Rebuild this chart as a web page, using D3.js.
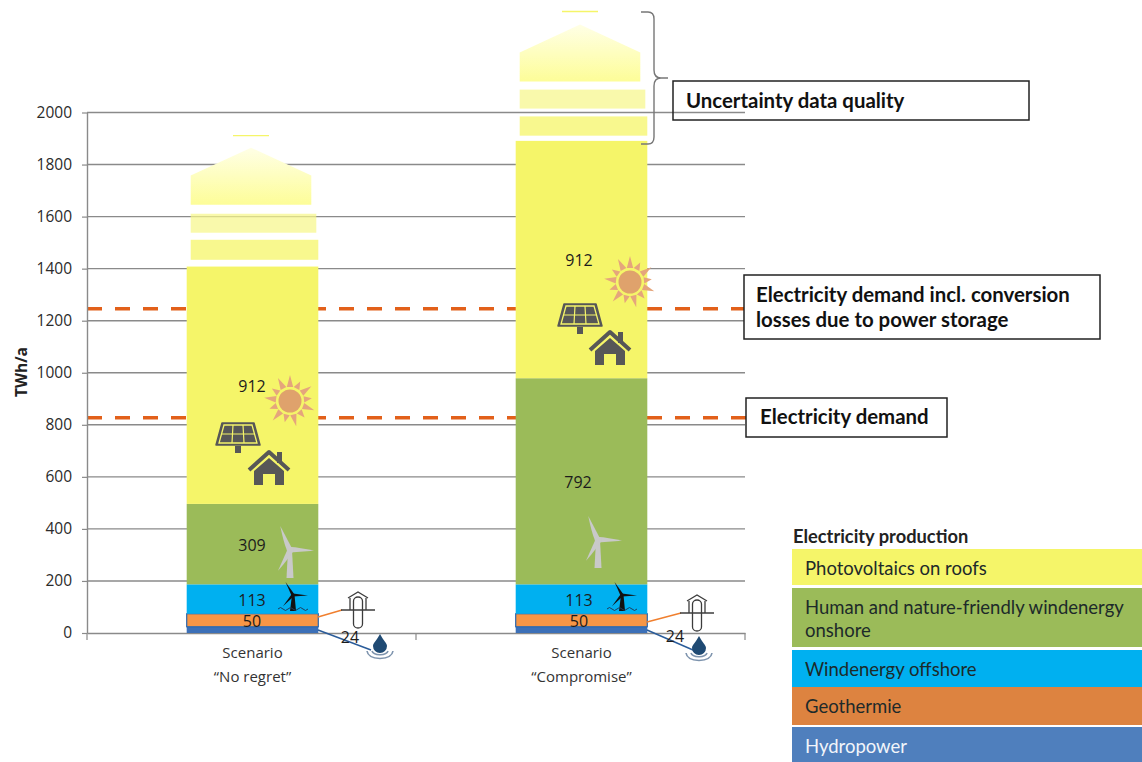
<!DOCTYPE html>
<html>
<head>
<meta charset="utf-8">
<script src="https://cdn.jsdelivr.net/npm/d3@7/dist/d3.min.js"></script>
<style>
  html, body { margin: 0; padding: 0; background: #fff; }
  svg { display: block; font-family: "Open Sans", "Noto Sans", sans-serif; }
</style>
</head>
<body>
<svg id="chart" width="1142" height="762"></svg>
<script>
// Scenario categories and stacked production values (TWh/a)
const scenarios = ["No regret", "Compromise"];
const sources = ["Hydropower", "Geothermie", "Windenergy offshore", "Windenergy onshore", "Photovoltaics on roofs"];
const hydropower = [24, 24];
const geothermie = [50, 50];
const offshore = [113, 113];
const onshore = [309, 792];
const photovoltaics = [912, 912];

// Uncertainty stack above the bars (TWh/a)
const lowerBandStart = [1434, 1911];
const lowerBandEnd = [1511, 1985];
const upperBandStart = [1538, 2015];
const upperBandEnd = [1611, 2088];
const capStart = [1646, 2119];
const capShoulder = [1758, 2231];
const capApex = [1865, 2338];
const topMark = [1911, 2388];

// Demand reference levels (TWh/a)
const demandLevels = [827, 1246];

const yTicks = [0, 200, 400, 600, 800, 1000, 1200, 1400, 1600, 1800, 2000];
const legendTitle = "Electricity production";
const legendLabels = [
  ["Photovoltaics on roofs"],
  ["Human and nature-friendly windenergy", "onshore"],
  ["Windenergy offshore"],
  ["Geothermie"],
  ["Hydropower"]
];

const colors = {
  "Hydropower": "#3c70b8",
  "Geothermie": "#f79646",
  "Windenergy offshore": "#00b0f0",
  "Windenergy onshore": "#9bbb59",
  "Photovoltaics on roofs": "#f5f569"
};
const legendColors = ["#f5f569", "#9bbb59", "#00b0f0", "#dd8340", "#4f7fbd"];
const legendRows = [[549, 585], [588, 647], [650, 687], [687, 725], [727, 762]];

const svg = d3.select("#chart");
const y = d3.scaleLinear().domain([0, 2000]).range([633, 112.5]);
const x = d3.scaleBand().domain(scenarios).range([87, 745]).paddingInner(0.6).paddingOuter(0.3);

const defs = svg.append("defs");
const capGrad = defs.append("linearGradient").attr("id", "capFill").attr("x1", 0).attr("x2", 0).attr("y1", 0).attr("y2", 1);
capGrad.append("stop").attr("offset", "0%").attr("stop-color", "#ffffe6");
capGrad.append("stop").attr("offset", "100%").attr("stop-color", "#fdfd98");

// Gridlines
svg.append("g").selectAll("line").data(yTicks.slice(1)).join("line")
  .attr("x1", 87).attr("x2", 745)
  .attr("y1", d => y(d)).attr("y2", d => y(d))
  .attr("stroke", "#8a8a8a").attr("stroke-width", 1.4);

// Demand levels run behind the bars
svg.append("g").selectAll("line").data(demandLevels).join("line")
  .attr("x1", 87).attr("x2", 746)
  .attr("y1", d => y(d)).attr("y2", d => y(d))
  .attr("stroke", "#e2601a").attr("stroke-width", 3.5).attr("stroke-dasharray", "15 13");

// Axes
const yAxis = d3.axisLeft(y).tickValues(yTicks).tickSize(5).tickSizeOuter(0).tickPadding(10).tickFormat(d3.format("d"));
const gy = svg.append("g").attr("transform", "translate(87,0)").call(yAxis);
gy.select(".domain").attr("stroke", "#8a8a8a").attr("stroke-width", 1.4);
gy.selectAll(".tick line").attr("stroke", "#8a8a8a").attr("stroke-width", 1.2);
gy.selectAll("text").attr("font-size", 15.5).attr("fill", "#2b2b2b").attr("font-family", "'Open Sans', sans-serif");

const xAxis = d3.axisBottom(x).tickSize(0).tickFormat("");
const gx = svg.append("g").attr("transform", `translate(0,${y(0)})`).call(xAxis);
gx.select(".domain").attr("stroke", "#8a8a8a").attr("stroke-width", 1.4);
gx.selectAll(".tick").remove();
svg.append("g").selectAll("line").data([87, 416, 745]).join("line")
  .attr("x1", d => d).attr("x2", d => d)
  .attr("y1", y(0)).attr("y2", y(0) + 7)
  .attr("stroke", "#8a8a8a").attr("stroke-width", 1.2);

svg.append("text")
  .attr("transform", "translate(27,372) rotate(-90)")
  .attr("text-anchor", "middle").attr("font-size", 15.5).attr("font-weight", 700).attr("fill", "#222")
  .text("TWh/a");

// Category labels
const catG = svg.append("g").selectAll("text").data(scenarios).join("text")
  .attr("text-anchor", "middle").attr("font-size", 15).attr("fill", "#333");
catG.append("tspan").attr("x", d => x(d) + x.bandwidth() / 2 + 1).attr("y", 658).text("Scenario");
catG.append("tspan").attr("x", d => x(d) + x.bandwidth() / 2 + 1).attr("y", 682).text(d => `\u201C${d}\u201D`);

// Stacked bars
const rows = scenarios.map((s, i) => ({
  scenario: s,
  "Hydropower": hydropower[i],
  "Geothermie": geothermie[i],
  "Windenergy offshore": offshore[i],
  "Windenergy onshore": onshore[i],
  "Photovoltaics on roofs": photovoltaics[i]
}));
const stacked = d3.stack().keys(sources)(rows);
const barG = svg.append("g");
stacked.forEach(layer => {
  barG.append("g").selectAll("rect").data(layer).join("rect")
    .attr("x", d => x(d.data.scenario) + 1)
    .attr("width", x.bandwidth())
    .attr("y", d => y(d[1]))
    .attr("height", d => y(d[0]) - y(d[1]))
    .attr("fill", colors[layer.key])
    .attr("stroke", layer.key === "Geothermie" ? "#2a66ad" : "none")
    .attr("stroke-width", layer.key === "Geothermie" ? 1.2 : 0);
});

// Uncertainty stack
const unc = svg.append("g");
scenarios.forEach((s, i) => {
  const left = x(s) + 5;
  const right = x(s) + x.bandwidth();
  unc.append("rect").attr("x", left).attr("width", right - left + 1)
    .attr("y", y(lowerBandEnd[i])).attr("height", y(lowerBandStart[i]) - y(lowerBandEnd[i]))
    .attr("fill", "#f8f88e");
  unc.append("rect").attr("x", left).attr("width", right - left - 1)
    .attr("y", y(upperBandEnd[i])).attr("height", y(upperBandStart[i]) - y(upperBandEnd[i]))
    .attr("fill", "#f7f78a").attr("fill-opacity", 0.72);
  const capRight = right - 6;
  const mid = (left + capRight) / 2;
  unc.append("path")
    .attr("d", d3.line()([
      [left, y(capStart[i])], [left, y(capShoulder[i])], [mid, y(capApex[i])],
      [capRight, y(capShoulder[i])], [capRight, y(capStart[i])]
    ]) + "Z")
    .attr("fill", "url(#capFill)");
  unc.append("line")
    .attr("x1", mid - 18).attr("x2", mid + 18)
    .attr("y1", y(topMark[i])).attr("y2", y(topMark[i]))
    .attr("stroke", "#f5f569").attr("stroke-width", 1.4);
});

// Pictograms, each drawn around its own origin
const dark = "#575757";
function sun(g) {
  for (let a = 0; a < 360; a += 27.7) {
    const long = Math.round(a / 27.7) % 2 === 0;
    g.append("path").attr("d", `M-3.2,-14L0,${long ? -26 : -22}L3.2,-14Z`)
      .attr("transform", `rotate(${a})`).attr("fill", "#e5a57c");
  }
  g.append("circle").attr("r", 11.5).attr("fill", "#dfa26c");
}
function panel(g) {
  g.append("path").attr("d", "M-16,-13H16L22,9H-22Z").attr("fill", dark).attr("stroke", dark).attr("stroke-width", 1.5).attr("stroke-linejoin", "round");
  g.append("path").attr("d", "M-14,-11H14L19,7H-19Z").attr("fill", "none").attr("stroke", "#f5f569").attr("stroke-width", 1.3);
  g.append("path").attr("d", "M-16,-2H17M-5,-11L-6,7M5,-11L6,7").attr("fill", "none").attr("stroke", "#f5f569").attr("stroke-width", 1.2);
  g.append("rect").attr("x", -3).attr("y", 10).attr("width", 6).attr("height", 7).attr("fill", dark);
}
function house(g) {
  g.append("path").attr("d", "M-20,2L0,-16L20,2").attr("fill", "none").attr("stroke", dark).attr("stroke-width", 4).attr("stroke-linejoin", "round");
  g.append("rect").attr("x", 8).attr("y", -16).attr("width", 5).attr("height", 11).attr("fill", dark);
  g.append("path").attr("d", "M-15,3L0,-10L15,3V17H6V6H-6V17H-15Z").attr("fill", dark);
}
function turbine(g, colour) {
  g.attr("fill", colour);
  g.append("path").attr("d", "M-2,0L2,0L3.5,28L-3.5,28Z");
  [-22, 92, 210].forEach((a, k) => {
    const len = k === 0 ? 26 : 24;
    g.append("path").attr("d", `M-3,0Q-3,${-len * 0.4} 0,${-len}L2.5,0Z`).attr("transform", `rotate(${a})`);
  });
  g.append("circle").attr("r", 3.2);
}
function seaTurbine(g) {
  g.attr("fill", "#111");
  g.append("path").attr("d", "M-1,0L1.5,0L3,16L-3,16Z");
  [-30, 92, 222].forEach(a => {
    g.append("path").attr("d", "M-1.6,0L0,-15L1.6,0Z").attr("transform", `rotate(${a})`);
  });
  g.append("path").attr("d", "M-15,14q2.5,-3 5,0t5,0t5,0t5,0t5,0t5,0").attr("fill", "none").attr("stroke", "#1f3d5c").attr("stroke-width", 1);
}
function geoProbe(g) {
  g.attr("fill", "none").attr("stroke", "#3c3c3c").attr("stroke-width", 1.3);
  g.append("path").attr("d", "M-10,-9L0,-15L10,-9");
  g.append("path").attr("d", "M-8,-9V3M8,-9V3");
  g.append("path").attr("d", "M-17,3H17").attr("stroke-width", 1.7);
  g.append("path").attr("d", "M-4.5,-6V17a4.5,4 0 0 0 9,0V-6a4.5,4 0 0 0 -9,0");
}
function droplet(g) {
  g.attr("fill", "none").attr("stroke", "#7d93ad").attr("stroke-width", 1.6);
  g.append("path").attr("d", "M-13,5Q-12,12 0,12.5Q12,12 13,5");
  g.append("path").attr("d", "M-8,5Q-7,8.5 0,8.8Q7,8.5 8,5");
  g.append("path").attr("d", "M0,-12C3,-6 7,-3 7,0A7,7 0 0 1 -7,0C-7,-3 -3,-6 0,-12Z").attr("fill", "#1f4a73").attr("stroke", "none");
}

// Pictogram anchors and connector leaders per scenario
const layout = [
  { sun: [290, 401], panel: [238, 436], house: [269, 468], turbine: [290, 550], sea: [293, 595], geo: [358, 607], drop: [380, 646],
    geoLine: [[318, 617], [342, 610]], dropLine: [[318, 630], [371, 650]],
    pv: [252, 386], on: [252, 545], off: [252, 600], ge: [252, 621], hy: [350, 637] },
  { sun: [630, 282], panel: [580, 317], house: [610, 348], turbine: [598, 540], sea: [622, 595], geo: [697, 610], drop: [699, 648],
    geoLine: [[647, 622], [681, 613]], dropLine: [[647, 630], [693, 650]],
    pv: [579, 260], on: [578, 482], off: [579, 600], ge: [579, 621], hy: [675, 636] }
];
const at = p => `translate(${p[0]},${p[1]})`;
const icons = svg.append("g");
layout.forEach((L, i) => {
  sun(icons.append("g").attr("transform", at(L.sun)));
  panel(icons.append("g").attr("transform", at(L.panel)));
  house(icons.append("g").attr("transform", at(L.house)));
  turbine(icons.append("g").attr("transform", at(L.turbine)), "#c9c9c9");
  seaTurbine(icons.append("g").attr("transform", at(L.sea)));
  icons.append("path").attr("d", d3.line()(L.geoLine)).attr("stroke", "#f07f2e").attr("stroke-width", 1.4);
  icons.append("path").attr("d", d3.line()(L.dropLine)).attr("stroke", "#2a5c9a").attr("stroke-width", 1.4);
  geoProbe(icons.append("g").attr("transform", at(L.geo)));
  droplet(icons.append("g").attr("transform", at(L.drop)));

  // Segment value labels
  [[L.pv, photovoltaics[i]], [L.on, onshore[i]], [L.off, offshore[i]], [L.ge, geothermie[i]], [L.hy, hydropower[i]]].forEach(([p, v]) => {
    icons.append("text").attr("x", p[0]).attr("y", p[1]).attr("dy", "0.36em")
      .attr("text-anchor", "middle").attr("font-size", 16).attr("fill", "#1c1c1c").text(v);
  });
});

// Bracket around the uncertainty stack
svg.append("path")
  .attr("d", "M641,12H648Q654,12 654,19V70Q654,78 661,78H668M661,78Q654,78 654,86V137Q654,144 648,144H641")
  .attr("fill", "none").attr("stroke", "#777").attr("stroke-width", 1.4);

// Annotation boxes
const notes = [
  { box: [673, 81, 356, 39], fill: "none", lines: ["Uncertainty data quality"], tx: 686, ty: [108] },
  { box: [744, 275, 356, 64], fill: "#fff", lines: ["Electricity demand incl. conversion", "losses due to power storage"], tx: 756, ty: [302, 327] },
  { box: [746, 398, 201, 39], fill: "#fff", lines: ["Electricity demand"], tx: 760, ty: [424] }
];
notes.forEach(n => {
  svg.append("rect").attr("x", n.box[0]).attr("y", n.box[1]).attr("width", n.box[2]).attr("height", n.box[3])
    .attr("fill", n.fill).attr("stroke", "#222").attr("stroke-width", 1.5);
  n.lines.forEach((t, k) => {
    svg.append("text").attr("x", n.tx).attr("y", n.ty[k]).attr("font-family", "Lato, sans-serif").attr("font-size", 20.4).attr("font-weight", 700).attr("fill", "#111").text(t);
  });
});

// Legend
svg.append("text").attr("x", 793).attr("y", 543).attr("font-family", "Lato, sans-serif").attr("font-size", 18.3).attr("font-weight", 700).attr("fill", "#222").text(legendTitle);
legendLabels.forEach((lines, i) => {
  const [top, bottom] = legendRows[i];
  svg.append("rect").attr("x", 792).attr("y", top).attr("width", 350).attr("height", bottom - top).attr("fill", legendColors[i]);
  lines.forEach((t, k) => {
    svg.append("text").attr("x", 805).attr("y", top + 26 + k * 23).attr("font-family", "Lato, sans-serif").attr("font-size", 18.5)
      .attr("fill", i === 4 ? "#f2f5fa" : "#1d2a2a").text(t);
  });
});
</script>
</body>
</html>
